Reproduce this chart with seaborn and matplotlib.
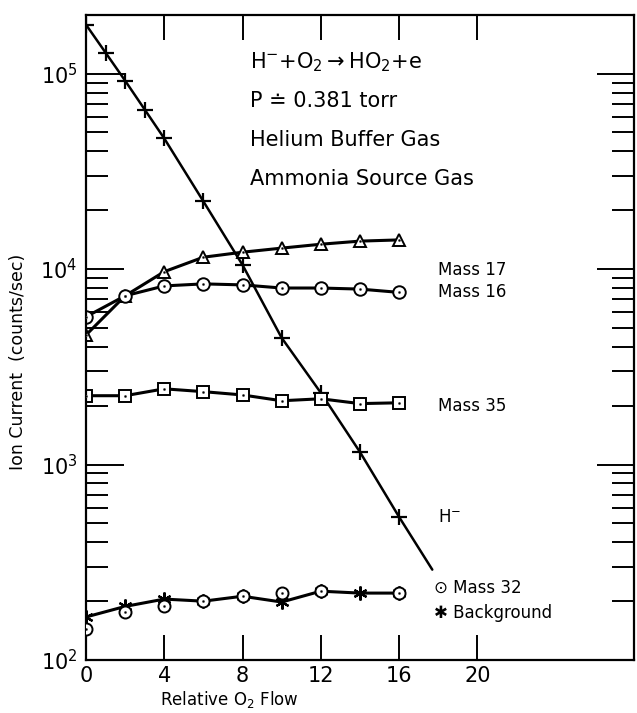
import numpy as np
import matplotlib
matplotlib.use("Agg")
import matplotlib.pyplot as plt
import matplotlib.ticker as mticker
import seaborn as sns

# data (relative O2 flow vs ion current, counts/sec)
flow = [0, 2, 4, 6, 8, 10, 12, 14, 16]

hminus_x = [0, 1, 2, 3, 4, 6, 8, 10, 12, 14, 16]
hminus = [1.78e5, 1.28e5, 9.2e4, 6.55e4, 4.66e4, 2.22e4, 1.05e4, 4.45e3, 2.33e3, 1.16e3, 5.4e2]
# straight-line extension drawn past the last point
hminus_tail_x = [16, 17.7]
hminus_tail = [5.4e2, 2.9e2]

mass17 = [4.6e3, 7.3e3, 9.7e3, 1.15e4, 1.22e4, 1.28e4, 1.34e4, 1.39e4, 1.41e4]
mass16 = [5.7e3, 7.3e3, 8.2e3, 8.4e3, 8.3e3, 8.0e3, 8.0e3, 7.9e3, 7.6e3]
mass35 = [2.25e3, 2.25e3, 2.44e3, 2.36e3, 2.27e3, 2.12e3, 2.17e3, 2.05e3, 2.07e3]

mass32_x = [0, 2, 4, 6, 8, 10, 12, 16]
mass32 = [144, 176, 189, 200, 212, 220, 225, 220]
background = [166, 188, 205, 200, 212, 198, 225, 220, 220]

xticks = [0, 4, 8, 12, 16, 20]

sns.set_theme(style="ticks")
plt.rcParams["font.family"] = ["DejaVu Sans"]
plt.rcParams["text.color"] = "black"
plt.rcParams["axes.labelcolor"] = "black"

fig = plt.figure(figsize=(6.37, 7.13), dpi=100)
ax = fig.add_axes([0.135, 0.0743, 0.860, 0.905])

lw = 2.2
mkw = dict(markersize=9, markeredgewidth=1.4, markeredgecolor="black",
           markerfacecolor="white")

# H- line
sns.lineplot(x=hminus_tail_x, y=hminus_tail, ax=ax, color="black", lw=1.8)
sns.lineplot(x=hminus_x, y=hminus, ax=ax, color="black", lw=1.8,
             marker="+", markersize=11, markeredgewidth=1.6, markeredgecolor="black")

# Mass 17 triangles
sns.lineplot(x=flow, y=mass17, ax=ax, color="black", lw=lw, marker="^", **mkw)
sns.scatterplot(x=flow, y=mass17, ax=ax, color="black", s=4, zorder=5)
# Mass 16 dotted circles
sns.lineplot(x=flow, y=mass16, ax=ax, color="black", lw=lw, marker="o", **mkw)
sns.scatterplot(x=flow, y=mass16, ax=ax, color="black", s=4, zorder=5)
# Mass 35 squares
sns.lineplot(x=flow, y=mass35, ax=ax, color="black", lw=lw, marker="s", **mkw)
sns.scatterplot(x=flow, y=mass35, ax=ax, color="black", s=4, zorder=5)

# Background asterisks + Mass 32 circles on one dashed trace
sns.lineplot(x=flow, y=background, ax=ax, color="black", lw=lw,
             marker=(6, 2, 0), markersize=10, markeredgewidth=1.6,
             markeredgecolor="black")
sns.scatterplot(x=mass32_x, y=mass32, ax=ax, marker="o", s=75, facecolor="white",
                edgecolor="black", linewidth=1.4, zorder=4)
sns.scatterplot(x=mass32_x, y=mass32, ax=ax, color="black", s=4, zorder=5)

ax.set_yscale("log")
ax.set_xlim(0, 28)
ax.set_ylim(100, 2e5)

ax.set_xticks(xticks)
ax.set_xticklabels([str(t) for t in xticks])
ax.yaxis.set_major_locator(mticker.LogLocator(base=10, numticks=10))
ax.yaxis.set_minor_locator(mticker.LogLocator(base=10, subs=range(2, 10), numticks=20))
ax.yaxis.set_minor_formatter(mticker.NullFormatter())
ax.yaxis.set_major_formatter(mticker.FuncFormatter(lambda v, p: r"$10^{%d}$" % round(np.log10(v))))

ax.tick_params(axis="x", which="major", direction="in", length=18, width=1.4,
               top=True, bottom=True, labelsize=15, pad=4, colors="black")
ax.tick_params(axis="x", which="minor", bottom=False, top=False)
ax.tick_params(axis="y", which="major", direction="in", length=27, width=1.4,
               left=True, right=True, labelsize=15, pad=6, colors="black")
ax.tick_params(axis="y", which="minor", direction="in", length=16, width=1.4,
               left=True, right=True, colors="black")
for s in ax.spines.values():
    s.set_linewidth(1.6)
    s.set_color("black")

ax.set_xlabel(r"Relative O$_2$ Flow", fontsize=12)
ax.xaxis.set_label_coords(0.262, -0.045)
ax.set_ylabel("Ion Current  (counts/sec)", fontsize=12.5)
ax.yaxis.set_label_coords(-0.108, 0.462)

# reaction / conditions block
block = [r"H$^{-}$+O$_2$$\rightarrow$HO$_2$+e", "P \u2250 0.381 torr",
         "Helium Buffer Gas", "Ammonia Source Gas"]
for i, line in enumerate(block):
    ax.text(0.299, 0.926 - 0.06 * i, line, transform=ax.transAxes,
            fontsize=15, va="center", ha="left")

# series labels
ax.text(18, 9.9e3, "Mass 17", fontsize=12, va="center")
ax.text(18, 7.6e3, "Mass 16", fontsize=12, va="center")
ax.text(18, 2.0e3, "Mass 35", fontsize=12, va="center")
ax.text(18, 5.4e2, r"H$^{-}$", fontsize=12, va="center")
ax.text(17.8, 2.35e2, "\u2299 Mass 32", fontsize=12, va="center")
ax.text(17.8, 1.74e2, "\u2731 Background", fontsize=12, va="center")

fig.savefig("out.png", dpi=100)
